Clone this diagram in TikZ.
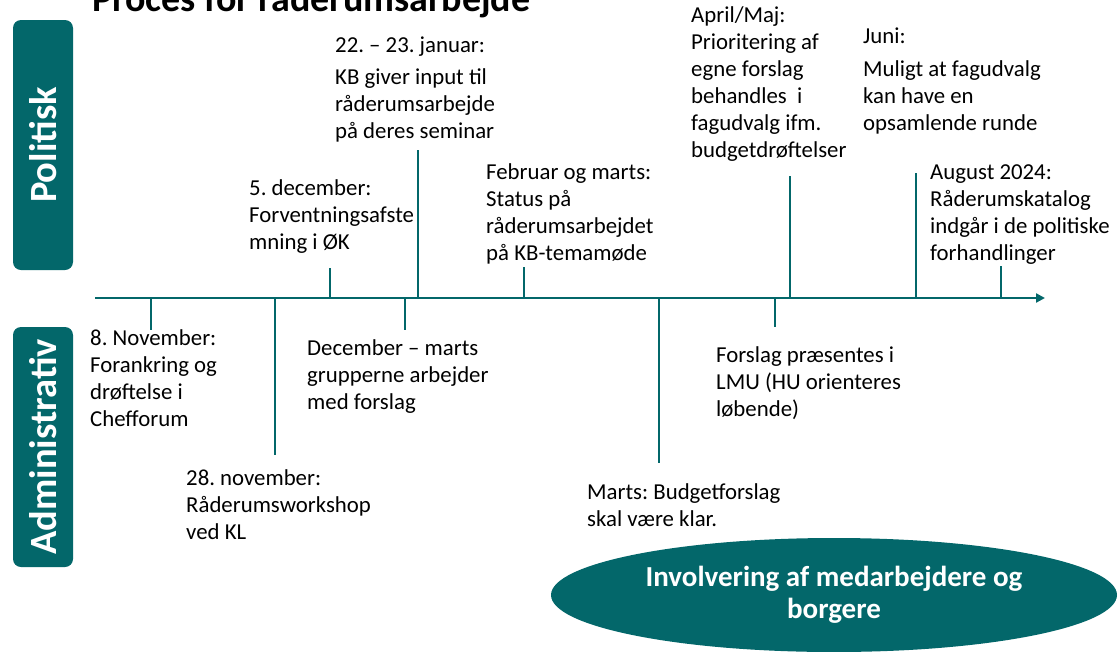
\documentclass[tikz,border=0pt]{standalone}
\usepackage{fontspec}
\setmainfont{Carlito}
\usepackage{tikz}
\usetikzlibrary{arrows.meta,shapes.geometric}
\definecolor{petrol}{HTML}{03676A}
\frenchspacing

\begin{document}
\begin{tikzpicture}[x=1pt,y=-1pt,
    tick/.style={draw=petrol,line width=2.8pt},
    event/.style={anchor=base west,align=left,inner sep=0pt,
                  font=\fontsize{22.8}{27}\selectfont},
    sidebox/.style={fill=petrol,text=white,rounded corners=8pt,rotate=90,
                  minimum height=60pt,font=\fontsize{38.5}{40}\selectfont\bfseries}]
        \useasboundingbox (0,0) rectangle (1119,651);
        % title (cut at the top)
        \node[anchor=base west,inner sep=0pt,font=\fontsize{38}{40}\selectfont\bfseries]
              (title) at (92,11) {Proces for råderumsarbejde};
        % side labels
        \node[sidebox,minimum width=250pt] (pol) at (43,145) {Politisk};
        \node[sidebox,minimum width=240pt] (adm) at (43,447) {Administrativ};
        % time axis
        \coordinate (ax0) at (95,298);
        \coordinate (ax1) at (1045,298);
        \draw[tick,-{Triangle[length=9pt,width=9pt]}] (ax0) -- (ax1);
        \foreach \x/\y [count=\i] in {330/268,418/150,524/267,790/176,916/173,1001/266,
                                      151/330,275/455,405/330,659/463,775/327}
          {\coordinate (tb\i) at (\x,298);
           \coordinate (te\i) at (\x,\y);
           \draw[tick] (tb\i) -- (te\i);}
        % politisk (nodes sit on the baseline of their last line)
        \node[event] (jan) at (335,138) {22. – 23. januar:\\[5pt]KB giver input til\\råderumsarbejde\\på deres seminar};
        \node[event] (dec5) at (249,249) {5. december:\\Forventningsafste\\mning i ØK};
        \node[event] (feb) at (486,260) {Februar og marts:\\Status på\\råderumsarbejdet\\på KB-temamøde};
        \node[event] (apr) at (691,157) {April/Maj:\\Prioritering af\\egne forslag\\behandles\ \ i\\fagudvalg ifm.\\budgetdrøftelser};
        \node[event] (jun) at (863,130) {Juni:\\[6pt]Muligt at fagudvalg\\kan have en\\opsamlende runde};
        \node[event] (aug) at (930,260) {August 2024:\\Råderumskatalog\\indgår i de politiske\\forhandlinger};
        % administrativ
        \node[event] (nov8) at (90,426) {8. November:\\Forankring og\\drøftelse i\\Chefforum};
        \node[event] (decm) at (307,409) {December – marts\\grupperne arbejder\\med forslag};
        \node[event] (nov28) at (186,539) {28. november:\\Råderumsworkshop\\ved KL};
        \node[event] (mar) at (587,526) {Marts: Budgetforslag\\skal være klar.};
        \node[event] (lmu) at (716,416) {Forslag præsentes i\\LMU (HU orienteres\\løbende)};
        % involvering
        \node[ellipse,fill=petrol,text=white,inner sep=0pt,minimum width=566pt,minimum height=114pt,
              align=center,font=\fontsize{29}{32}\selectfont\bfseries]
              (inv) at (834,595) {Involvering af medarbejdere og\\borgere};
\end{tikzpicture}
\end{document}
